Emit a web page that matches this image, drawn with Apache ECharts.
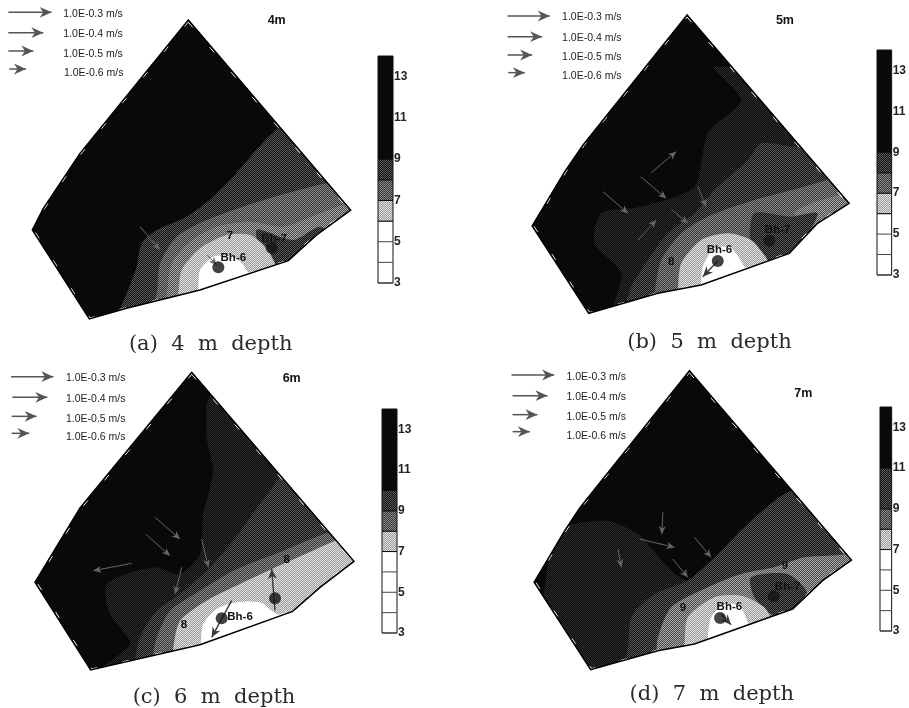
<!DOCTYPE html>
<html><head><meta charset="utf-8">
<style>html,body{margin:0;padding:0;background:#fff}#c{width:909px;height:708px}</style>
<script src="https://cdn.jsdelivr.net/npm/echarts@6/dist/echarts.min.js"></script>
</head><body><div id="c"></div>
<script>
// ---------- data (site units) ----------
const SE = [[1320,420],[1320,1050],[300,1050]];
const speedLabels = ['1.0E-0.3 m/s','1.0E-0.4 m/s','1.0E-0.5 m/s','1.0E-0.6 m/s'];
const depthNames = ['4m','5m','6m','7m'];
const captions = ['(a)  4  m  depth','(b)  5  m  depth','(c)  6  m  depth','(d)  7  m  depth'];

// head levels of the colour bars
const barA = [[3,6,'white'],[6,7,'light'],[7,8,'mid'],[8,9,'dark'],[9,14,'black']];
const barB = [[3,6,'white'],[6,7,'light'],[7,8,'mid'],[8,9,'dark'],[9,14,'black']];
const barC = [[3,7,'white'],[7,8,'light'],[8,9,'mid'],[9,10,'dark'],[10,14,'black']];
const barD = [[3,7,'white'],[7,8,'light'],[8,9,'mid'],[9,11,'dark'],[11,14,'black']];
const barTicks = [3,4,5,6];

// boundaries
const outlineA = [[565,60],[1052,630],[950,705],[865,782],[600,870],[380,925],[268,957],[97,690],[130,625],[240,460]];
const outlineB = [[698,45],[1185,610],[1090,670],[1005,760],[740,855],[610,880],[402,940],[232,678],[330,515],[385,435]];
const outlineC = [[575,55],[1062,622],[960,700],[878,772],[600,872],[272,948],[105,685],[240,462]];
const outlineD = [[705,50],[1192,618],[1105,680],[1015,765],[720,870],[610,890],[408,947],[238,685],[330,530],[375,462]];

// contour regions, panel (a)
const aDark  = [[345,960],[380,880],[410,800],[425,730],[470,690],[560,650],[640,590],[700,530],[760,460],[835,385],[900,380],...SE];
const aMid   = [[440,960],[470,880],[480,790],[530,710],[620,660],[730,620],[860,580],[1000,545],[1080,540],...SE];
const aGray  = [[480,960],[500,880],[515,790],[570,725],[650,680],[750,665],[850,680],[960,640],[1080,590],...SE];
const aBh7   = [[770,690],[880,720],[960,680],[1000,720],[880,800],[800,790]];
const aLight = [[520,960],[535,880],[545,810],[600,745],[680,705],[750,705],[800,745],[830,800],[860,860],...SE.slice(1)];
const aWhite = [[585,960],[595,870],[600,810],[640,770],[700,770],[730,795],[755,860],...SE.slice(2)];
// panel (b)
const bVdark = [[780,200],[860,300],[760,400],[720,560],[560,620],[440,640],[420,730],[500,820],[480,960],[1320,960],[1320,300]];
const bDark  = [[490,960],[530,860],[580,780],[640,700],[720,640],[780,570],[880,480],[920,430],[1010,440],[1080,440],...SE];
const bMid   = [[590,960],[600,880],[620,780],[680,700],[760,650],[900,600],[1050,560],[1140,530],...SE];
const bBh7   = [[900,640],[1010,650],[1090,640],[1040,730],[960,790],[890,730]];
const bLight = [[660,960],[670,870],[680,790],[740,720],[820,700],[890,720],[930,765],[980,840],...SE.slice(1)];
const bWhite = [[735,960],[740,855],[745,800],[780,745],[830,745],[870,800],[900,860],...SE.slice(2)];
const bTip   = [[1020,640],[1100,600],[1220,580],[1220,640],[1100,680]];
// panel (c)
const cVdark = [[640,120],[620,250],[640,350],[610,480],[600,600],[540,660],[460,640],[320,690],[330,780],[390,870],[290,960],[1320,960],[1320,200]];
const cDark  = [[390,960],[420,850],[470,770],[540,720],[620,650],[700,560],[780,450],[850,365],[920,360],...SE];
const cMid   = [[440,960],[470,850],[510,770],[600,710],[700,650],[850,590],[1000,530],[1080,520],...SE];
const cLight = [[515,960],[520,880],[540,800],[620,740],[720,690],[860,625],[1005,560],[1080,530],...SE];
const cWhite = [[600,960],[603,860],[610,810],[650,765],[710,745],[780,745],[830,780],[900,790],...SE.slice(1)];
// panel (d)
const dVdark = [[300,540],[450,500],[550,540],[640,640],[700,680],[780,610],[880,510],[1000,415],[1100,400],...SE];
const dDark2 = [[500,960],[520,880],[530,790],[600,720],[700,680],[780,610],[880,510],[1000,415],[1100,400],...SE];
const dMid   = [[590,960],[610,850],[650,760],[760,700],[860,660],[960,640],[1050,610],[1200,590],...SE];
const dBh7   = [[890,670],[1000,660],[1060,720],[1010,790],[950,780],[900,730]];
const dLight = [[680,960],[690,870],[700,790],[780,730],[860,725],[930,760],[980,840],...SE.slice(1)];
const dWhite = [[755,960],[760,855],[770,790],[810,750],[860,760],[880,860],...SE.slice(2)];

// legend arrows and field arrows: x0,y0,x1,y1
const legendA = [[25,37,155,37],[25,98,130,98],[25,153,100,153],[28,207,78,207]];
const legendB = [[158,48,285,48],[158,110,262,110],[158,165,232,165],[160,218,210,218]];
const legendC = [[33,68,160,68],[37,130,142,130],[35,187,110,187],[35,238,88,238]];
const legendD = [[170,63,298,63],[173,125,278,125],[173,182,248,182],[173,233,225,233]];
const legendTextA = [[190,42],[190,103],[190,163],[192,218]];
const legendTextB = [[322,52],[322,113],[322,172],[322,228]];
const legendTextC = [[198,73],[198,135],[198,195],[198,250]];
const legendTextD = [[335,68],[335,130],[335,190],[335,245]];
const fieldA = [[420,680,480,750],[622,765,650,795]];
const fieldB = [[590,518,665,455],[558,530,635,595],[445,575,520,640],[650,628,700,670],[550,720,605,660],[730,560,755,620]];
const fieldC = [[465,490,540,555],[437,540,510,605],[545,640,525,720],[605,555,625,640],[395,628,280,650]];
const fieldD = [[625,475,622,540],[555,555,660,580],[655,615,700,670],[720,550,770,610],[490,585,500,640]];
const wellArrowsA = [];
const wellArrowsB = [[790,783,745,830]];
const wellArrowsC = [[695,740,635,850],[825,770,815,645]];
const wellArrowsD = [[800,780,830,812]];
// boreholes, with where their names go
const wellsA = [[655,802],[815,743]];
const wellsB = [[790,783],[945,722]];
const wellsC = [[665,793],[825,733]];
const wellsD = [[797,792],[958,727]];
const wellNamesA = [['Bh-6',700,772],['Bh-7',822,715]];
const wellNamesB = [['Bh-6',795,748],['Bh-7',970,690]];
const wellNamesC = [['Bh-6',720,788]];
const wellNamesD = [['Bh-6',825,758],['Bh-7',1000,698]];
const contourNamesA = [['7',690,708]];
const contourNamesB = [['8',650,785]];
const contourNamesC = [['8',552,812],['8',860,618]];
const contourNamesD = [['9',685,760],['9',992,635]];
const depthPosA = [830,63], depthPosB = [992,63], depthPosC = [875,75], depthPosD = [1047,120];
const captionPosA = [632,1035], captionPosB = [765,1027], captionPosC = [642,1030], captionPosD = [772,1022];

// ---------- styles ----------
function dither(a,b){
  const c=document.createElement('canvas');c.width=2;c.height=2;
  const x=c.getContext('2d');x.fillStyle=a;x.fillRect(0,0,2,2);
  x.fillStyle=b;x.fillRect(0,0,1,1);x.fillRect(1,1,1,1);
  return {image:c,repeat:'repeat'};
}
const FILL = {
  black:'#090909', white:'#ffffff',
  vdark:dither('#0a0a0a','#2e2e2e'),
  dark:dither('#111111','#5a5a5a'),
  mid:dither('#353535','#8c8c8c'),
  gray:dither('#4a4a4a','#a8a8a8'),
  light:dither('#9a9a9a','#e2e2e2')
};
const PANELS = [
 {o:[0,0],outline:outlineA,bands:[[aDark,'dark'],[aMid,'mid'],[aGray,'gray'],[aBh7,'dark'],[aLight,'light'],[aWhite,'white']],bar:barA,barBox:[378,56,15,227],legend:legendA,lt:legendTextA,field:fieldA,wa:wellArrowsA,wells:wellsA,wn:wellNamesA,cn:contourNamesA,dp:depthPosA,cp:captionPosA},
 {o:[455,0],outline:outlineB,bands:[[bVdark,'vdark'],[bDark,'dark'],[bMid,'mid'],[bTip,'gray'],[bBh7,'dark'],[bLight,'light'],[bWhite,'white']],bar:barB,barBox:[877,50,16,225],legend:legendB,lt:legendTextB,field:fieldB,wa:wellArrowsB,wells:wellsB,wn:wellNamesB,cn:contourNamesB,dp:depthPosB,cp:captionPosB},
 {o:[0,354],outline:outlineC,bands:[[cVdark,'vdark'],[cDark,'dark'],[cMid,'mid'],[cLight,'light'],[cWhite,'white']],bar:barC,barBox:[382,409,15,224],legend:legendC,lt:legendTextC,field:fieldC,wa:wellArrowsC,wells:wellsC,wn:wellNamesC,cn:contourNamesC,dp:depthPosC,cp:captionPosC},
 {o:[455,354],outline:outlineD,bands:[[dVdark,'vdark'],[dDark2,'dark'],[dMid,'gray'],[dBh7,'dark'],[dLight,'light'],[dWhite,'white']],bar:barD,barBox:[880,407,15,224],legend:legendD,lt:legendTextD,field:fieldD,wa:wellArrowsD,wells:wellsD,wn:wellNamesD,cn:contourNamesD,dp:depthPosD,cp:captionPosD}
];

// ---------- option ----------
const grid=[],xAxis=[],yAxis=[],series=[];
function arrowItem(api,a,color,w,hl){
  const p0=api.coord([a[0],a[1]]),p1=api.coord([a[2],a[3]]);
  const t=Math.atan2(p1[1]-p0[1],p1[0]-p0[0]);
  const pt=(l,s)=>[p1[0]-l*Math.cos(t)-s*Math.sin(t),p1[1]-l*Math.sin(t)+s*Math.cos(t)];
  return {type:'group',children:[
    {type:'line',shape:{x1:p0[0],y1:p0[1],x2:p1[0],y2:p1[1]},style:{stroke:color,lineWidth:w}},
    {type:'polygon',shape:{points:[p1,pt(hl,hl*0.45),pt(hl*0.7,0),pt(hl,-hl*0.45)]},style:{fill:color}}
  ]};
}
PANELS.forEach((P,i)=>{
  // map grid
  grid.push({left:P.o[0],top:P.o[1],width:455,height:354,show:false});
  xAxis.push({type:'value',gridIndex:i*2,min:0,max:1365,show:false});
  yAxis.push({type:'value',gridIndex:i*2,min:0,max:1062,inverse:true,show:false});
  // colour bar grid
  const B=P.barBox;
  grid.push({left:B[0],top:B[1],width:B[2],height:B[3],show:false});
  xAxis.push({type:'value',gridIndex:i*2+1,min:0,max:1,show:false});
  yAxis.push({type:'value',gridIndex:i*2+1,min:3,max:14,interval:1,position:'right',
    axisLine:{show:false},axisTick:{show:false},splitLine:{show:false},
    axisLabel:{show:true,margin:1,fontFamily:'Liberation Sans',fontSize:12,fontWeight:'bold',color:'#222',
      verticalAlign:'middle',formatter:v=>(v%2&&v<14)?String(v):''}});
  const ax={xAxisIndex:i*2,yAxisIndex:i*2};
  const clip=P.outline.map(p=>p);
  const clipIn=api=>({type:'polygon',shape:{points:clip.map(p=>api.coord(p))}});
  // base
  series.push({type:'custom',...ax,silent:true,animation:false,data:[[0,0]],encode:{x:0,y:1},
    renderItem:(pr,api)=>({type:'polygon',shape:{points:clip.map(p=>api.coord(p))},style:{fill:FILL.black}})});
  // bands
  series.push({type:'custom',...ax,silent:true,animation:false,data:P.bands.map((b,k)=>[k,k]),encode:{x:0,y:1},
    renderItem:(pr,api)=>{const b=P.bands[api.value(0)];
      return {type:'polygon',shape:{points:b[0].map(p=>api.coord(p)),smooth:0.25},style:{fill:FILL[b[1]]},clipPath:clipIn(api)};}});
  // field arrows
  series.push({type:'custom',...ax,silent:true,animation:false,data:P.field,encode:{x:0,y:1},
    renderItem:(pr,api)=>arrowItem(api,[0,1,2,3].map(k=>api.value(k)),'#666666',1,8)});
  // outline: black edge with the white inner dashes
  series.push({type:'custom',...ax,silent:true,animation:false,data:[[0,0]],encode:{x:0,y:1},
    renderItem:(pr,api)=>{
      const pts=clip.map(p=>api.coord(p));
      const cx=pts.reduce((s,p)=>s+p[0],0)/pts.length,cy=pts.reduce((s,p)=>s+p[1],0)/pts.length;
      const inner=pts.map(p=>[cx+(p[0]-cx)*0.99,cy+(p[1]-cy)*0.99]);
      return {type:'group',children:[
        {type:'polygon',shape:{points:inner},style:{fill:'none',stroke:'#ffffff',lineWidth:1,lineDash:[7,26]}},
        {type:'polygon',shape:{points:pts},style:{fill:'none',stroke:'#000000',lineWidth:1.5}}
      ]};}});
  // legend arrows
  series.push({type:'custom',...ax,silent:true,animation:false,data:P.legend,encode:{x:0,y:1},
    renderItem:(pr,api)=>arrowItem(api,[0,1,2,3].map(k=>api.value(k)),'#555555',1.5,12)});
  // boreholes
  series.push({type:'scatter',...ax,silent:true,animation:false,data:P.wells,symbol:'circle',symbolSize:12,itemStyle:{color:'#141414'}});
  // borehole arrows
  series.push({type:'custom',...ax,silent:true,animation:false,data:P.wa,encode:{x:0,y:1},
    renderItem:(pr,api)=>arrowItem(api,[0,1,2,3].map(k=>api.value(k)),'#3a3a3a',1.4,10)});
  // texts
  const texts=[
    ...P.lt.map((p,k)=>[speedLabels[k],p[0],p[1],'leg']),
    ...P.wn.map(w=>[w[0],w[1],w[2],'well']),
    ...P.cn.map(w=>[w[0],w[1],w[2],'well']),
    [depthNames[i],P.dp[0],P.dp[1],'depth'],
    [captions[i],P.cp[0],P.cp[1],'cap']
  ];
  series.push({type:'custom',...ax,silent:true,animation:false,data:texts.map((t,k)=>[t[1],t[2],k]),encode:{x:0,y:1},
    renderItem:(pr,api)=>{const t=texts[api.value(2)],c=api.coord([t[1],t[2]]);
      const S={leg:{font:'10.5px "Liberation Sans"',fill:'#222',align:'left'},
        well:{font:'bold 11.5px "Liberation Sans"',fill:'#111',align:'center'},
        depth:{font:'bold 12.5px "Liberation Sans"',fill:'#111',align:'center'},
        cap:{font:'21px "DejaVu Serif"',fill:'#2a2a2a',align:'center'}}[t[3]];
      return {type:'text',style:{text:t[0],x:c[0],y:c[1],font:S.font,fill:S.fill,align:S.align,verticalAlign:'middle'}};}});
  // colour bar cells
  const ax2={xAxisIndex:i*2+1,yAxisIndex:i*2+1};
  series.push({type:'custom',...ax2,silent:true,animation:false,data:P.bar,encode:{y:[0,1]},
    renderItem:(pr,api)=>{
      const a=api.coord([0,api.value(0)]),b=api.coord([1,api.value(1)]);
      return {type:'rect',shape:{x:a[0],y:b[1],width:b[0]-a[0],height:a[1]-b[1]},
        style:{fill:FILL[P.bar[pr.dataIndex][2]],stroke:'#111',lineWidth:1}};}});
  series.push({type:'custom',...ax2,silent:true,animation:false,data:barTicks.map(v=>[v]),encode:{y:0},
    renderItem:(pr,api)=>{
      const v=api.value(0);
      if(v>=P.bar[0][1]) return;
      const a=api.coord([0,v]),b=api.coord([1,v]);
      return {type:'line',shape:{x1:a[0],y1:a[1],x2:b[0],y2:b[1]},style:{stroke:'#444',lineWidth:1}};}});
});
const chart=echarts.init(document.getElementById('c'),null,{renderer:'canvas'});
chart.setOption({animation:false,backgroundColor:'#ffffff',grid,xAxis,yAxis,series});
</script></body></html>
